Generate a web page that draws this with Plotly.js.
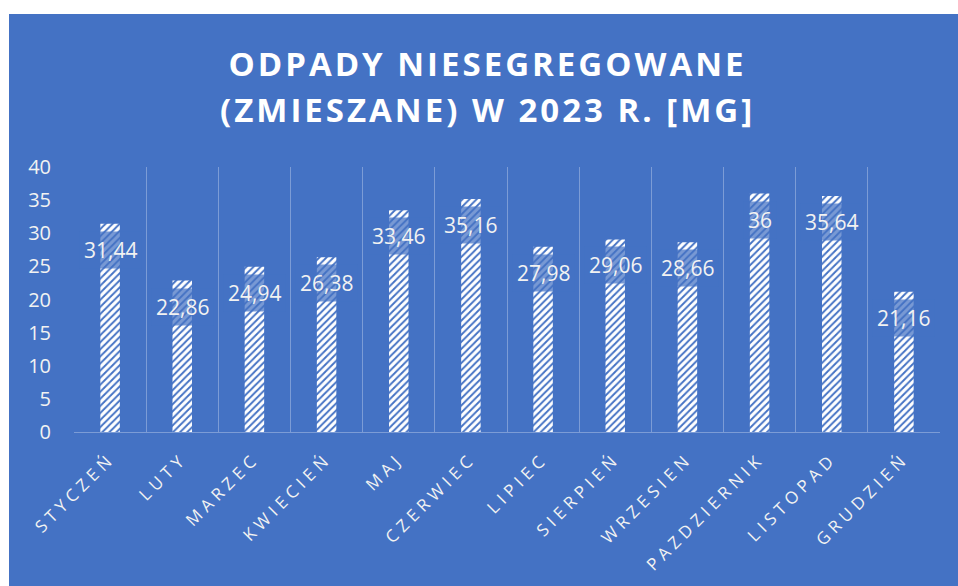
<!DOCTYPE html>
<html>
<head>
<meta charset="utf-8">
<script src="https://cdn.plot.ly/plotly-3.0.1.min.js"></script>
<style>
  html, body { margin: 0; padding: 0; background: #ffffff; }
  #chart { position: absolute; left: 9px; top: 14px; width: 949px; height: 572px; }
  .xtick text { letter-spacing: 4.8px; }
</style>
</head>
<body>
<div id="chart"></div>
<script>
const months = ["STYCZEŃ", "LUTY", "MARZEC", "KWIECIEŃ", "MAJ", "CZERWIEC", "LIPIEC", "SIERPIEŃ", "WRZESIEN", "PAZDZIERNIK", "LISTOPAD", "GRUDZIEŃ"];
const tonnes = [31.44, 22.86, 24.94, 26.38, 33.46, 35.16, 27.98, 29.06, 28.66, 36, 35.64, 21.16];
const yTicks = [0, 5, 10, 15, 20, 25, 30, 35, 40];
const titleLines = ["ODPADY NIESEGREGOWANE", "(ZMIESZANE) W 2023 R. [MG]"];

const bg = "#4472C4";
const gridCol = "rgba(255,255,255,0.3)";

const trace = {
  type: "bar",
  x: months,
  y: tonnes,
  width: 0.27,
  marker: {
    color: bg,
    line: { width: 0 },
    pattern: { shape: "/", fgcolor: "#ffffff", bgcolor: bg, size: 5, solidity: 0.62, fillmode: "replace" }
  },
  hoverinfo: "none"
};

const annotations = months.map((m, i) => ({
  x: m, y: tonnes[i], xref: "x", yref: "y",
  text: String(tonnes[i]).replace(".", ","),
  showarrow: false, yanchor: "top", yshift: -7,
  font: { family: "Open Sans, sans-serif", size: 21, color: "#F2F2F2" },
  bgcolor: "rgba(68,114,196,0.72)", borderpad: 4
}));

const titleY = [1.39, 1.218];
titleLines.forEach((t, i) => {
  annotations.push({
    text: t, xref: "paper", yref: "paper",
    x: (478 - 65) / 866, y: titleY[i],
    xanchor: "center", yanchor: "middle", showarrow: false,
    font: { family: "Open Sans, sans-serif", size: 33, color: "#ffffff", weight: 700 }
  });
});

const layout = {
  width: 949, height: 572,
  paper_bgcolor: bg, plot_bgcolor: bg,
  margin: { l: 65, r: 18, t: 153, b: 154 },
  showlegend: false,
  xaxis: {
    type: "category",
    tickson: "boundaries",
    showgrid: true, gridcolor: gridCol, gridwidth: 1,
    showline: true, linecolor: gridCol, linewidth: 1,
    ticks: "", tickangle: -45,
    ticklabelstandoff: 9,
    tickfont: { family: "Open Sans, sans-serif", size: 17, color: "#F2F2F2" },
    zeroline: false
  },
  yaxis: {
    range: [0, 40],
    tickvals: yTicks,
    showgrid: false, zeroline: false, showline: false,
    ticks: "", ticklabelstandoff: 22,
    tickfont: { family: "Open Sans, sans-serif", size: 20, color: "#F2F2F2" }
  },
  annotations: annotations
};

Plotly.newPlot("chart", [trace], layout, { displayModeBar: false, staticPlot: true }).then(() => {
  const anns = document.querySelectorAll("#chart .annotation");
  for (let k = anns.length - titleLines.length; k < anns.length; k++) {
    anns[k].querySelectorAll("text").forEach(el => el.style.letterSpacing = "3px");
  }
});
</script>
</body>
</html>
